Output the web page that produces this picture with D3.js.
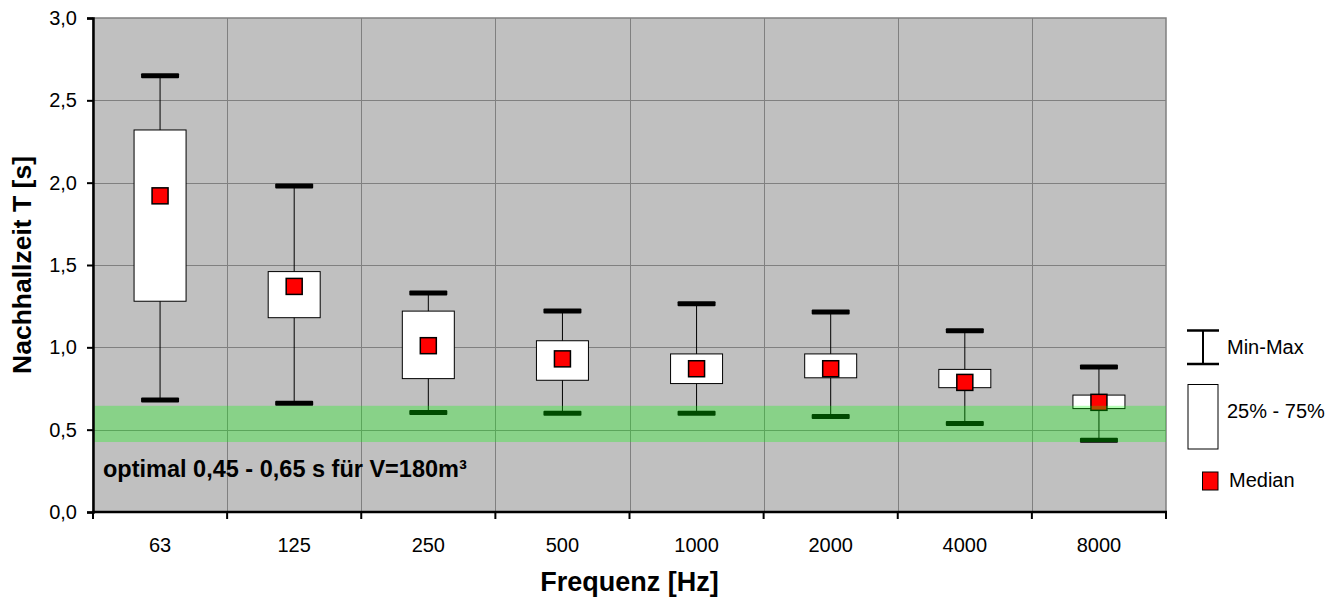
<!DOCTYPE html>
<html>
<head>
<meta charset="utf-8">
<script src="https://cdn.jsdelivr.net/npm/d3@7"></script>
<style>
  body { margin: 0; background: #fff; }
  svg text { font-family: Arial, "Liberation Sans", sans-serif; }
</style>
</head>
<body>
<div id="chart"></div>
<script>
// frequency bands and box values
var categories = ["63", "125", "250", "500", "1000", "2000", "4000", "8000"];
var minVals = [0.68, 0.66, 0.605, 0.60, 0.60, 0.58, 0.537, 0.435];
var q1Vals  = [1.28, 1.18, 0.81, 0.80, 0.78, 0.815, 0.755, 0.628];
var medVals = [1.92, 1.37, 1.01, 0.93, 0.87, 0.87, 0.787, 0.666];
var q3Vals  = [2.32, 1.46, 1.22, 1.04, 0.96, 0.96, 0.866, 0.71];
var maxVals = [2.65, 1.98, 1.33, 1.22, 1.265, 1.215, 1.10, 0.88];
var yTicks = [0, 0.5, 1.0, 1.5, 2.0, 2.5, 3.0];
var band = [0.425, 0.645];
var legendLabels = ["Min-Max", "25% - 75%", "Median"];

var width = 1343, height = 598;
var margin = {left: 93, right: 177, top: 18, bottom: 86};

var svg = d3.select("#chart").append("svg")
    .attr("width", width)
    .attr("height", height);

var x = d3.scaleBand().domain(categories).range([margin.left, width - margin.right]);
var y = d3.scaleLinear().domain([0, 3]).range([height - margin.bottom, margin.top]);

var fmt = function(d){ return d3.format(".1f")(d).replace(".", ","); };

// plot background
svg.append("rect")
    .attr("x", margin.left).attr("y", margin.top)
    .attr("width", width - margin.left - margin.right)
    .attr("height", y(0) - margin.top)
    .attr("fill", "#c0c0c0")
    .attr("stroke", "#808080")
    .attr("stroke-width", 1.5);

// grid
svg.append("g").selectAll("line.h")
    .data(yTicks.slice(1, -1))
    .enter().append("line")
    .attr("x1", margin.left).attr("x2", width - margin.right)
    .attr("y1", function(d){ return Math.round(y(d)) + 0.5; })
    .attr("y2", function(d){ return Math.round(y(d)) + 0.5; })
    .attr("stroke", "#808080").attr("stroke-width", 1);
svg.append("g").selectAll("line.v")
    .data(categories.slice(1))
    .enter().append("line")
    .attr("x1", function(d){ return Math.round(x(d)) + 0.5; })
    .attr("x2", function(d){ return Math.round(x(d)) + 0.5; })
    .attr("y1", margin.top).attr("y2", y(0))
    .attr("stroke", "#808080").attr("stroke-width", 1);

var boxes = categories.map(function(c, i){
    return {cat: c, min: minVals[i], q1: q1Vals[i], med: medVals[i], q3: q3Vals[i], max: maxVals[i]};
});
var cx = function(d){ return x(d.cat) + x.bandwidth() / 2; };

var g = svg.append("g");
// whiskers
g.selectAll("line.w").data(boxes).enter().append("line")
    .attr("x1", cx).attr("x2", cx)
    .attr("y1", function(d){ return y(d.max); })
    .attr("y2", function(d){ return y(d.min); })
    .attr("stroke", "#000").attr("stroke-width", 1);
// boxes
g.selectAll("rect.box").data(boxes).enter().append("rect")
    .attr("x", function(d){ return cx(d) - 26; })
    .attr("width", 52)
    .attr("y", function(d){ return y(d.q3); })
    .attr("height", function(d){ return y(d.q1) - y(d.q3); })
    .attr("fill", "#fff").attr("stroke", "#000").attr("stroke-width", 1);
// caps
["min", "max"].forEach(function(k){
    g.selectAll("rect.cap-" + k).data(boxes).enter().append("rect")
        .attr("x", function(d){ return cx(d) - 19; })
        .attr("width", 38)
        .attr("y", function(d){ return y(d[k]) - 2.5; })
        .attr("height", 5)
        .attr("rx", 1)
        .attr("fill", "#000");
});
// medians
g.selectAll("rect.med").data(boxes).enter().append("rect")
    .attr("x", function(d){ return cx(d) - 8; })
    .attr("y", function(d){ return y(d.med) - 8; })
    .attr("width", 16).attr("height", 16)
    .attr("fill", "#ff0000").attr("stroke", "#000").attr("stroke-width", 1.5);

// optimal range band (translucent overlay)
svg.append("rect")
    .attr("x", margin.left).attr("width", width - margin.left - margin.right)
    .attr("y", y(band[1])).attr("height", y(band[0]) - y(band[1]))
    .attr("fill", "rgb(0,255,0)").attr("fill-opacity", 0.29);

svg.append("text")
    .attr("x", 103).attr("y", 477)
    .attr("font-size", 23.5).attr("font-weight", "bold")
    .text("optimal 0,45 - 0,65 s für V=180m³");

// axes
var yAxis = svg.append("g")
    .attr("transform", "translate(" + margin.left + ",0)")
    .call(d3.axisLeft(y).tickValues(yTicks).tickFormat(fmt).tickSize(6).tickPadding(10));
yAxis.select(".domain").attr("stroke-width", 2.5);
yAxis.selectAll(".tick line").attr("stroke-width", 2);
yAxis.selectAll("text").attr("font-size", 20).attr("fill", "#000")
    .attr("font-family", "Arial, 'Liberation Sans', sans-serif");

var xAxis = svg.append("g")
    .attr("transform", "translate(0," + y(0) + ")");
xAxis.append("line")
    .attr("x1", margin.left - 1).attr("x2", width - margin.right + 1)
    .attr("y1", 0).attr("y2", 0)
    .attr("stroke", "#000").attr("stroke-width", 2.5);
xAxis.selectAll("line.t")
    .data(categories.concat(["end"]))
    .enter().append("line")
    .attr("x1", function(d, i){ return i < categories.length ? x(d) : width - margin.right; })
    .attr("x2", function(d, i){ return i < categories.length ? x(d) : width - margin.right; })
    .attr("y1", 0).attr("y2", 7)
    .attr("stroke", "#000").attr("stroke-width", 2);
xAxis.selectAll("text")
    .data(categories)
    .enter().append("text")
    .attr("x", function(d){ return x(d) + x.bandwidth() / 2; })
    .attr("y", 552 - y(0))
    .attr("text-anchor", "middle")
    .attr("font-size", 20)
    .text(function(d){ return d; });

// axis titles
svg.append("text")
    .attr("x", (margin.left + width - margin.right) / 2)
    .attr("y", 591)
    .attr("text-anchor", "middle")
    .attr("font-size", 27).attr("font-weight", "bold")
    .text("Frequenz [Hz]");
svg.append("text")
    .attr("transform", "translate(31," + y(1.5) + ") rotate(-90)")
    .attr("text-anchor", "middle")
    .attr("font-size", 26.5).attr("font-weight", "bold")
    .text("Nachhallzeit T [s]");

// legend
var lg = svg.append("g");
lg.append("line").attr("x1", 1203).attr("x2", 1203).attr("y1", 330).attr("y2", 364)
    .attr("stroke", "#000").attr("stroke-width", 2);
lg.append("line").attr("x1", 1187).attr("x2", 1219).attr("y1", 330.5).attr("y2", 330.5)
    .attr("stroke", "#000").attr("stroke-width", 2.5);
lg.append("line").attr("x1", 1187).attr("x2", 1219).attr("y1", 364).attr("y2", 364)
    .attr("stroke", "#000").attr("stroke-width", 2.5);
lg.append("rect").attr("x", 1188).attr("y", 384.5).attr("width", 30).attr("height", 64.5)
    .attr("fill", "#fff").attr("stroke", "#000").attr("stroke-width", 1);
lg.append("rect").attr("x", 1202.5).attr("y", 472).attr("width", 15.5).attr("height", 18)
    .attr("fill", "#ff0000").attr("stroke", "#000").attr("stroke-width", 1);
var ly = [354, 418, 487];
var lx = [1227, 1227, 1229];
lg.selectAll("text.l").data(legendLabels).enter().append("text")
    .attr("x", function(d, i){ return lx[i]; })
    .attr("y", function(d, i){ return ly[i]; })
    .attr("font-size", 20)
    .text(function(d){ return d; });
</script>
</body>
</html>
